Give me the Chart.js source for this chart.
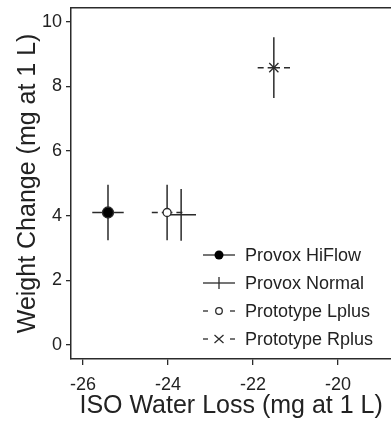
<!DOCTYPE html>
<html>
<head>
<meta charset="utf-8">
<script src="https://cdn.jsdelivr.net/npm/chart.js@4/dist/chart.umd.min.js"></script>
<style>
  html, body { margin: 0; padding: 0; background: #fff; overflow: hidden; }
  #wrap { width: 391px; height: 423px; overflow: hidden; }
</style>
</head>
<body>
<!-- canvas is a little wider than the window: Chart.js keeps ~8px free right of the x axis,
     the original plot runs off the right edge -->
<div id="wrap"><canvas id="errChart" width="399" height="423"></canvas></div>
<script>
// data
const labels = ['Provox HiFlow', 'Provox Normal', 'Prototype Lplus', 'Prototype Rplus'];
const waterLoss = [-25.41, -23.69, -24.02, -21.51];
const waterLossErr = [0.37, 0.35, 0.36, 0.38];
const weightChange = [4.10, 4.03, 4.10, 8.58];
const weightChangeErr = [0.86, 0.80, 0.86, 0.94];
const xTicks = [-26, -24, -22, -20];
const yTicks = [0, 2, 4, 6, 8, 10];

const ink = '#2b2b2b';
const font = '"Liberation Sans", Arial, sans-serif';

// marker + error bar style per series
const styles = [
  { point: 'circle', radius: 5.5, fill: '#000', dashed: false },
  { point: 'line', radius: 0, fill: ink, dashed: false },
  { point: 'circle', radius: 4, fill: '#fff', dashed: true },
  { point: 'crossRot', radius: 6.5, fill: ink, dashed: true }
];

let datasets = labels.map(function (lab, i) {
  return {
    label: lab,
    data: [{ x: waterLoss[i], y: weightChange[i] }],
    pointStyle: styles[i].point,
    pointRadius: styles[i].radius,
    backgroundColor: styles[i].fill,
    borderColor: ink,
    pointBorderWidth: 1.3
  };
});

// error bars, drawn under the markers
const errorBars = {
  id: 'errorBars',
  beforeDatasetsDraw(chart) {
    const c = chart.ctx, xs = chart.scales.x, ys = chart.scales.y;
    c.save();
    c.strokeStyle = ink;
    c.lineWidth = 1.5;
    labels.forEach(function (lab, i) {
      const px = xs.getPixelForValue(waterLoss[i]);
      const py = ys.getPixelForValue(weightChange[i]);
      const x0 = xs.getPixelForValue(waterLoss[i] - waterLossErr[i]);
      const x1 = xs.getPixelForValue(waterLoss[i] + waterLossErr[i]);
      const y0 = ys.getPixelForValue(weightChange[i] - weightChangeErr[i]);
      const y1 = ys.getPixelForValue(weightChange[i] + weightChangeErr[i]);
      c.setLineDash([]);
      c.beginPath(); c.moveTo(px, y0); c.lineTo(px, y1); c.stroke();
      if (styles[i].dashed) c.setLineDash([6, 4]);
      // draw each half from the end inward so dashes sit at the tips
      c.beginPath(); c.moveTo(x0, py); c.lineTo(px, py); c.stroke();
      c.beginPath(); c.moveTo(x1, py); c.lineTo(px, py); c.stroke();
    });
    c.restore();
  },
  afterDraw(chart) {
    const c = chart.ctx, a = chart.chartArea;
    c.save();
    // top frame line
    c.strokeStyle = ink;
    c.lineWidth = 1.5;
    c.beginPath(); c.moveTo(a.left, a.top); c.lineTo(chart.width, a.top); c.stroke();

    // legend
    const rows = [255, 283, 311, 339];
    const lx0 = 203, lx1 = 235, mx = 219;
    c.font = '18px ' + font;
    c.textBaseline = 'middle';
    labels.forEach(function (lab, i) {
      const y = rows[i];
      c.strokeStyle = ink;
      c.lineWidth = 1.3;
      if (styles[i].dashed) {
        c.beginPath(); c.moveTo(lx0, y); c.lineTo(lx0 + 5, y); c.stroke();
        c.beginPath(); c.moveTo(lx1 - 5, y); c.lineTo(lx1, y); c.stroke();
      } else {
        c.beginPath(); c.moveTo(lx0, y); c.lineTo(lx1, y); c.stroke();
      }
      if (i === 0) {
        c.fillStyle = '#000';
        c.beginPath(); c.arc(mx, y, 4.5, 0, Math.PI * 2); c.fill();
      } else if (i === 1) {
        c.beginPath(); c.moveTo(mx, y - 6); c.lineTo(mx, y + 6); c.stroke();
      } else if (i === 2) {
        c.fillStyle = '#fff';
        c.beginPath(); c.arc(mx, y, 3.3, 0, Math.PI * 2); c.fill(); c.stroke();
      } else {
        c.beginPath();
        c.moveTo(mx - 4.5, y - 4); c.lineTo(mx + 4.5, y + 4);
        c.moveTo(mx - 4.5, y + 4); c.lineTo(mx + 4.5, y - 4);
        c.stroke();
      }
      c.fillStyle = '#222';
      c.fillText(lab, 245, y + 1);
    });
    c.restore();
  }
};

new Chart(document.getElementById('errChart'), {
  type: 'scatter',
  data: { datasets: datasets },
  plugins: [errorBars],
  options: {
    responsive: false,
    animation: false,
    layout: { padding: { top: 6, right: 0, left: 0, bottom: 0 } },
    plugins: { legend: { display: false }, tooltip: { enabled: false } },
    scales: {
      x: {
        type: 'linear',
        min: -26.28,
        max: -18.75,
        afterBuildTicks: function (s) { s.ticks = xTicks.map(v => ({ value: v })); },
        afterFit: function (s) { s.height = 64; s.paddingLeft = 0; s.paddingRight = 0; },
        grid: { drawOnChartArea: false, drawTicks: true, tickLength: 6, color: ink, lineWidth: 1.3 },
        border: { color: ink, width: 1.5 },
        ticks: { color: '#222', font: { family: font, size: 18 }, padding: 9, maxRotation: 0 },
        title: { display: true, text: 'ISO Water Loss (mg at 1 L)', color: '#222',
                 font: { family: font, size: 25 }, padding: { top: 0, bottom: 2 } }
      },
      y: {
        type: 'linear',
        min: -0.43,
        max: 10.43,
        afterBuildTicks: function (s) { s.ticks = yTicks.map(v => ({ value: v })); },
        afterFit: function (s) { s.width = 71; s.paddingTop = 0; s.paddingBottom = 0; },
        grid: { drawOnChartArea: false, drawTicks: true, tickLength: 5, color: ink, lineWidth: 1.3 },
        border: { color: ink, width: 1.5 },
        ticks: { color: '#222', font: { family: font, size: 18 }, padding: 4 },
        title: { display: true, text: 'Weight Change (mg at 1 L)', color: '#222',
                 font: { family: font, size: 25 }, padding: { top: 13, bottom: 0 } }
      }
    }
  }
});
</script>
</body>
</html>
